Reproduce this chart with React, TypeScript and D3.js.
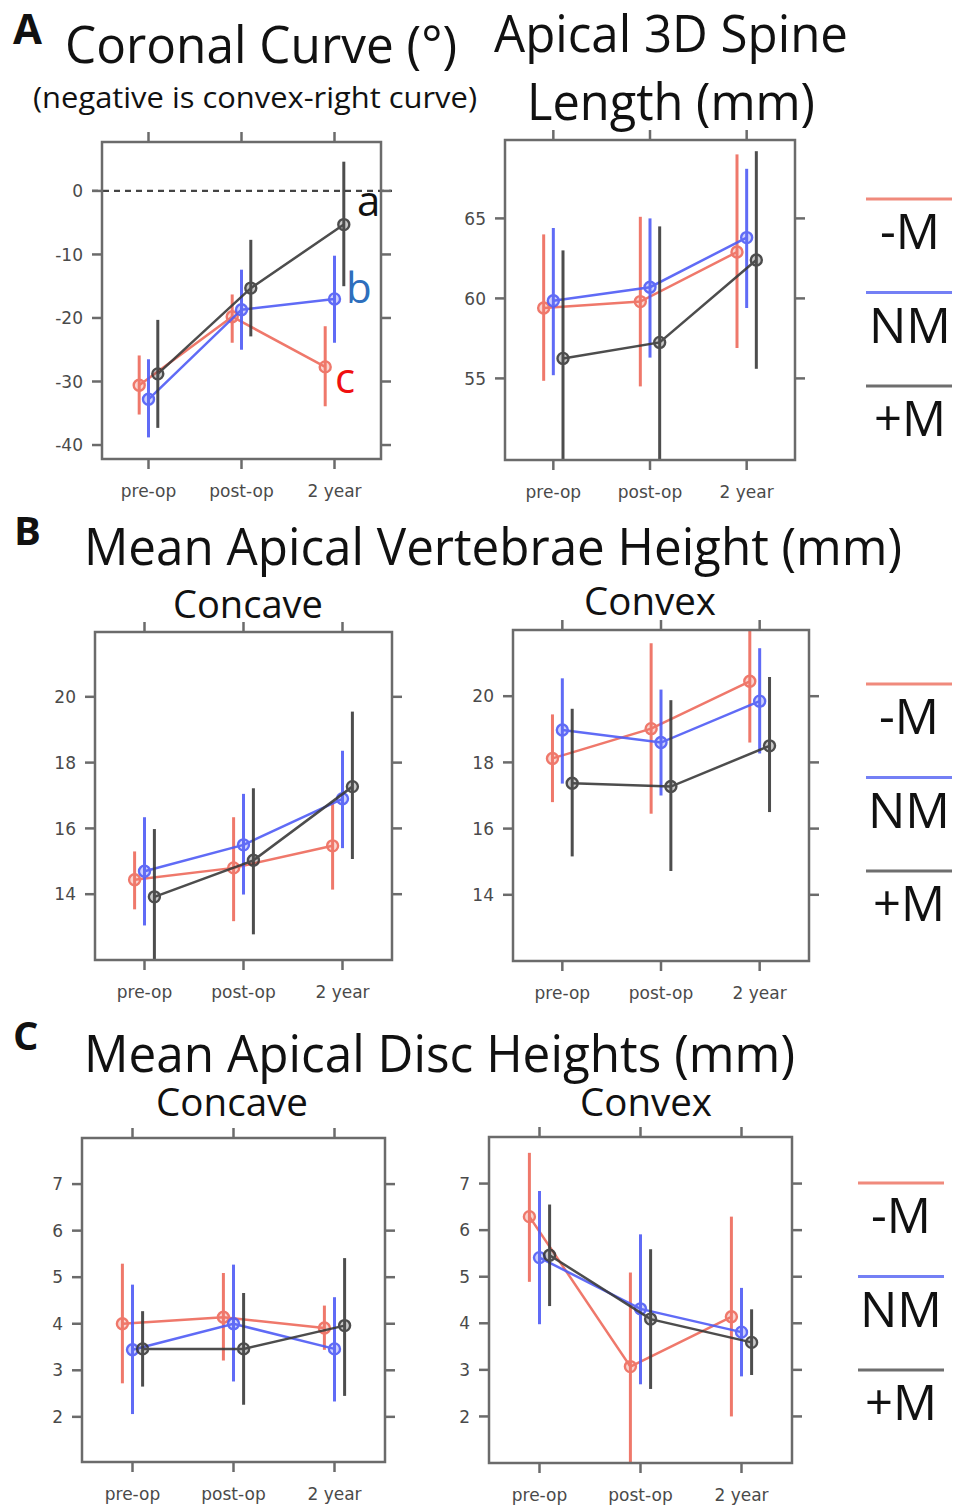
import React from "react"
import * as d3 from "d3"

// time points and groups
const timepoints = ["pre-op", "post-op", "2 year"]
const groups = ["-M", "NM", "+M"]
const groupColors = ["#ee6a5b", "#4f5cf6", "#3a3a3a"]
const legendColors = ["#f08a7c", "#7480f5", "#6e6e6e"]

// A: coronal curve (deg), rows = -M, NM, +M
const coronalMean = [[-30.6, -19.8, -27.7], [-32.8, -18.7, -17.0], [-28.8, -15.3, -5.3]]
const coronalLow = [[-35.2, -23.9, -33.9], [-38.8, -25.0, -23.9], [-37.3, -22.9, -15.0]]
const coronalHigh = [[-25.9, -16.3, -21.3], [-26.5, -12.4, -10.2], [-20.3, -7.7, 4.6]]
const coronalTicks = [0, -10, -20, -30, -40]

// A: apical 3D spine length (mm)
const lengthMean = [[59.4, 59.8, 62.9], [59.85, 60.7, 63.8], [56.25, 57.25, 62.4]]
const lengthLow = [[54.85, 54.5, 56.9], [55.2, 56.3, 59.4], [49.0, 49.5, 55.6]]
const lengthHigh = [[64.0, 65.1, 69.0], [64.4, 65.0, 68.1], [63.0, 64.5, 69.2]]
const lengthTicks = [55, 60, 65]

// B: vertebrae height concave (mm)
const vertConcaveMean = [[14.44, 14.8, 15.47], [14.7, 15.5, 16.9], [13.92, 15.03, 17.27]]
const vertConcaveLow = [[13.54, 13.18, 14.14], [13.05, 13.99, 15.4], [11.5, 12.78, 15.07]]
const vertConcaveHigh = [[15.3, 16.34, 16.79], [16.34, 17.05, 18.36], [15.98, 17.22, 19.55]]

// B: vertebrae height convex (mm)
const vertConvexMean = [[18.12, 19.02, 20.45], [18.98, 18.6, 19.85], [17.37, 17.27, 18.5]]
const vertConvexLow = [[16.8, 16.45, 18.6], [17.36, 17.0, 18.27], [15.16, 14.72, 16.5]]
const vertConvexHigh = [[19.45, 21.6, 22.3], [20.54, 20.2, 21.45], [19.62, 19.88, 20.58]]
const vertTicks = [14, 16, 18, 20]

// C: disc height concave (mm)
const discConcaveMean = [[4.0, 4.14, 3.91], [3.44, 4.0, 3.46], [3.46, 3.46, 3.96]]
const discConcaveLow = [[2.72, 3.21, 3.44], [2.06, 2.76, 2.33], [2.65, 2.26, 2.45]]
const discConcaveHigh = [[5.29, 5.09, 4.39], [4.84, 5.27, 4.57], [4.27, 4.66, 5.41]]

// C: disc height convex (mm)
const discConvexMean = [[6.29, 3.07, 4.14], [5.41, 4.31, 3.81], [5.46, 4.09, 3.59]]
const discConvexLow = [[4.89, 0.9, 2.0], [3.98, 2.69, 2.86], [4.37, 2.59, 2.89]]
const discConvexHigh = [[7.66, 5.09, 6.29], [6.84, 5.91, 4.76], [6.55, 5.59, 4.3]]
const discTicks = [2, 3, 4, 5, 6, 7]

const groupShift = [-0.1, 0, 0.1]
const titleFont = "'Open Sans', 'Noto Sans', sans-serif"
const tickFont = "'DejaVu Sans', sans-serif"
const frame = "#6b6b6b"

type PanelProps = {
  id: string
  x0: number, x1: number, y0: number, y1: number
  domain: [number, number]
  ticks: number[]
  mean: number[][], low: number[][], high: number[][]
  zeroLine?: boolean
}

const Panel = ({id, x0, x1, y0, y1, domain, ticks, mean, low, high, zeroLine}: PanelProps) => {
  const x = d3.scalePoint<string>().domain(timepoints).range([x0, x1]).padding(0.5)
  const y = d3.scaleLinear().domain(domain).range([y1, y0])
  const step = x.step()
  const line = d3.line<number>()
    .x((_, i) => x(timepoints[i])!)
    .y(d => y(d))
  const tl = 10

  return (
    <g>
      <defs>
        <clipPath id={"clip-" + id}>
          <rect x={x0} y={y0} width={x1 - x0} height={y1 - y0} />
        </clipPath>
      </defs>
      {zeroLine && (
        <line x1={x0 - 10} x2={x1 + 11} y1={y(0)} y2={y(0)}
          stroke="#444" strokeWidth={2.2} strokeDasharray="6,5" />
      )}
      <g clipPath={`url(#clip-${id})`}>
        {groups.map((g, gi) => {
          const off = groupShift[gi] * step
          return (
            <g key={g} transform={`translate(${off},0)`} opacity={0.9}>
              {mean[gi].map((m, i) => (
                <line key={"e" + i} x1={x(timepoints[i])} x2={x(timepoints[i])}
                  y1={y(low[gi][i])} y2={y(high[gi][i])}
                  stroke={groupColors[gi]} strokeWidth={3} />
              ))}
              <path d={line(mean[gi]) || ""} fill="none" stroke={groupColors[gi]} strokeWidth={2.5} />
              {mean[gi].map((m, i) => (
                <circle key={"p" + i} cx={x(timepoints[i])} cy={y(m)} r={5.5}
                  fill={groupColors[gi]} fillOpacity={0.3}
                  stroke={groupColors[gi]} strokeWidth={2.4} />
              ))}
            </g>
          )
        })}
      </g>
      <rect x={x0} y={y0} width={x1 - x0} height={y1 - y0} fill="none" stroke={frame} strokeWidth={2.5} />
      {timepoints.map(t => (
        <g key={t}>
          <line x1={x(t)} x2={x(t)} y1={y1} y2={y1 + tl} stroke={frame} strokeWidth={2.5} />
          <line x1={x(t)} x2={x(t)} y1={y0} y2={y0 - tl} stroke={frame} strokeWidth={2.5} />
          <text x={x(t)} y={y1 + 38} textAnchor="middle" fontFamily={tickFont}
            fontSize={17} fill="#4a4a4a">{t}</text>
        </g>
      ))}
      {ticks.map(v => (
        <g key={v}>
          <line x1={x0} x2={x0 - tl} y1={y(v)} y2={y(v)} stroke={frame} strokeWidth={2.5} />
          <line x1={x1} x2={x1 + tl} y1={y(v)} y2={y(v)} stroke={frame} strokeWidth={2.5} />
          <text x={x0 - 19} y={y(v)} dy="0.36em" textAnchor="end" fontFamily={tickFont}
            fontSize={17} fill="#4a4a4a">{v}</text>
        </g>
      ))}
    </g>
  )
}

const Legend = ({x, y, xl0, xl1}: {x: number, y: number, xl0: number, xl1: number}) => {
  const widths = [60, 82, 72]
  return (
    <g>
      {groups.map((g, i) => (
        <g key={g}>
          <line x1={xl0} x2={xl1} y1={y + i * 93.5} y2={y + i * 93.5}
            stroke={legendColors[i]} strokeWidth={3} />
          <text x={x} y={y + i * 93.5 + 50} textAnchor="middle" fontFamily={titleFont}
            fontSize={50} fill="#111" textLength={widths[i]} lengthAdjust="spacingAndGlyphs">{g}</text>
        </g>
      ))}
    </g>
  )
}

const T = ({x, y, size, len, bold, children}: {x: number, y: number, size: number, len?: number, bold?: boolean, children: string}) => (
  <text x={x} y={y} fontFamily={titleFont} fontSize={size} fontWeight={bold ? 700 : 400}
    fill="#111" textLength={len} lengthAdjust={len ? "spacingAndGlyphs" : undefined}>{children}</text>
)

const App = () => {
  return (
    <svg width={962} height={1509} style={{position: "absolute", left: 0, top: 0, background: "#fff"}}>
      <rect width={962} height={1509} fill="#fff" />
      {/* section A */}
      <T x={13} y={44} size={42} bold>A</T>
      <T x={65} y={63} size={52} len={392}>Coronal Curve (°)</T>
      <T x={33} y={108} size={30} len={444}>(negative is convex-right curve)</T>
      <T x={494} y={52} size={52} len={354}>Apical 3D Spine</T>
      <T x={527} y={120} size={52} len={288}>Length (mm)</T>
      <Panel id="a1" x0={102} x1={381} y0={142} y1={459} domain={[-42.2, 7.7]} ticks={coronalTicks}
        mean={coronalMean} low={coronalLow} high={coronalHigh} zeroLine />
      <text x={357} y={216} fontFamily={titleFont} fontSize={42} fill="#111">a</text>
      <text x={346} y={303} fontFamily={titleFont} fontSize={42} fill="#2e6fbd">b</text>
      <text x={335} y={393} fontFamily={titleFont} fontSize={42} fill="#f01010">c</text>
      <Panel id="a2" x0={505} x1={795} y0={140} y1={460} domain={[49.9, 69.9]} ticks={lengthTicks}
        mean={lengthMean} low={lengthLow} high={lengthHigh} />
      <Legend x={910} y={199} xl0={866} xl1={952} />

      {/* section B */}
      <T x={14} y={545} size={40} bold>B</T>
      <T x={84} y={565} size={52} len={818}>Mean Apical Vertebrae Height (mm)</T>
      <T x={173} y={618} size={38} len={150}>Concave</T>
      <T x={584} y={615} size={38} len={132}>Convex</T>
      <Panel id="b1" x0={95} x1={392} y0={632} y1={960} domain={[12.0, 21.97]} ticks={vertTicks}
        mean={vertConcaveMean} low={vertConcaveLow} high={vertConcaveHigh} />
      <Panel id="b2" x0={513} x1={809} y0={630} y1={961} domain={[12.0, 22.0]} ticks={vertTicks}
        mean={vertConvexMean} low={vertConvexLow} high={vertConvexHigh} />
      <Legend x={909} y={684} xl0={866} xl1={952} />

      {/* section C */}
      <T x={13} y={1050} size={40} bold>C</T>
      <T x={84} y={1072} size={52} len={711}>Mean Apical Disc Heights (mm)</T>
      <T x={156} y={1116} size={38} len={152}>Concave</T>
      <T x={580} y={1116} size={38} len={132}>Convex</T>
      <Panel id="c1" x0={82} x1={385} y0={1138} y1={1462} domain={[1.03, 7.99]} ticks={discTicks}
        mean={discConcaveMean} low={discConcaveLow} high={discConcaveHigh} />
      <Panel id="c2" x0={489} x1={792} y0={1137} y1={1463} domain={[1.0, 8.0]} ticks={discTicks}
        mean={discConvexMean} low={discConvexLow} high={discConvexHigh} />
      <Legend x={901} y={1183} xl0={858} xl1={944} />
    </svg>
  )
}

export default App
